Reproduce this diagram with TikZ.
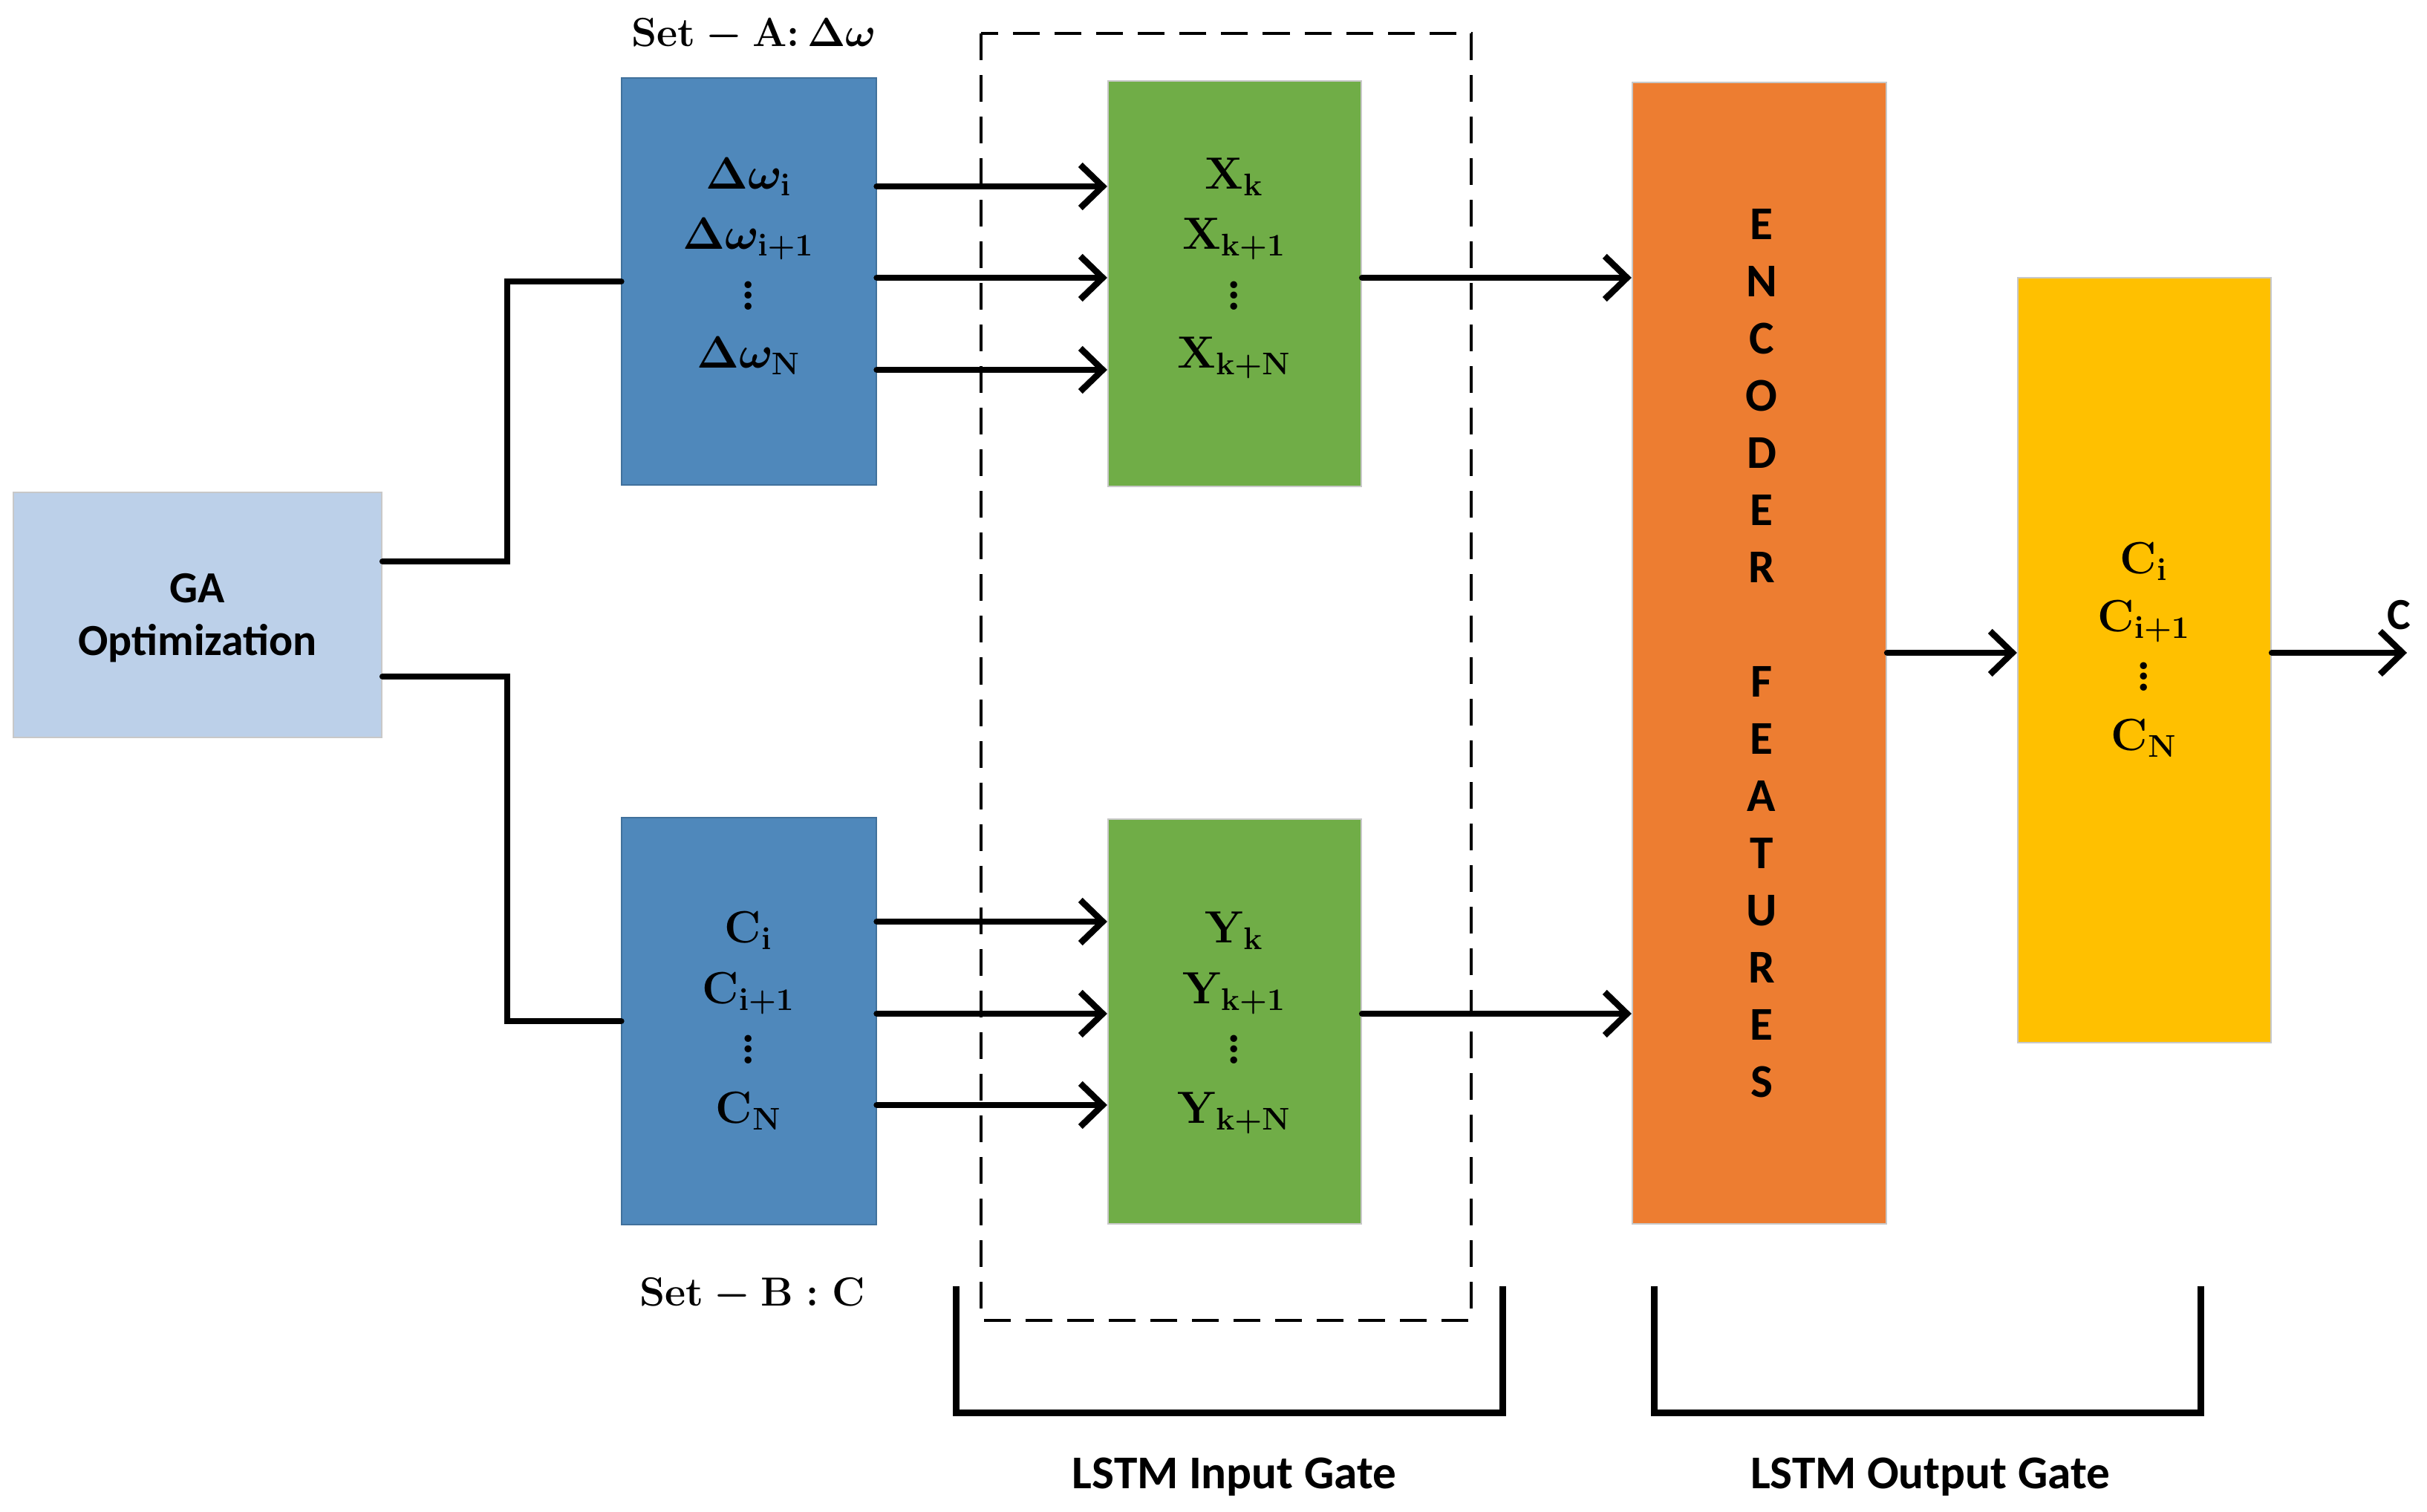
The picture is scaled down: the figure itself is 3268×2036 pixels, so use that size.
\documentclass[tikz,border=0pt]{standalone}
\usepackage{amsmath}
\usepackage{fontspec}
\newfontfamily\carlito{Carlito}
\usetikzlibrary{arrows.meta}
\definecolor{gacol}{HTML}{BCD0E9}
\definecolor{bluecol}{HTML}{4F88BB}
\definecolor{blueedge}{HTML}{41719C}
\definecolor{greencol}{HTML}{70AD47}
\definecolor{orangecol}{HTML}{ED7D31}
\definecolor{yellowcol}{HTML}{FFC000}
\definecolor{lightedge}{HTML}{C8C8C8}
\tikzset{
  blk/.style={rectangle, inner sep=0pt, minimum width=3.42cm, line width=0.02cm},
  mtxt/.style={anchor=base, inner sep=0pt, font=\boldmath\bfseries\fontsize{18.6}{22}\selectfont},
  settxt/.style={anchor=base, inner sep=0pt, font=\boldmath\bfseries\fontsize{15.8}{19}\selectfont},
  stxt/.style={anchor=base, inner sep=0pt, font=\carlito\bfseries\fontsize{17}{20}\selectfont},
  gtxt/.style={anchor=base, inner sep=0pt, font=\carlito\bfseries\fontsize{18}{21}\selectfont},
  wire/.style={line width=0.085cm, line cap=round, line join=miter},
  arr/.style={wire, -{Straight Barb[length=0.3cm,width=0.58cm]}},
  brk/.style={line width=0.09cm, line join=miter},
  dsh/.style={line width=0.04cm, dash pattern=on 0.36cm off 0.2cm},
}
\begin{document}
\begin{tikzpicture}[x=0.01cm,y=-0.01cm]
\path[use as bounding box] (0,0) rectangle (3268,2036);
% boxes
\node[blk, fill=gacol, draw=lightedge, minimum width=4.96cm, minimum height=3.30cm] (ga) at (266,828) {};
\node[blk, fill=bluecol, draw=blueedge, minimum height=5.48cm] (bA) at (1008.5,379) {};
\node[blk, fill=bluecol, draw=blueedge, minimum height=5.48cm] (bB) at (1008.5,1375) {};
\node[blk, fill=greencol, draw=lightedge, minimum width=3.41cm, minimum height=5.46cm] (gA) at (1662.5,382) {};
\node[blk, fill=greencol, draw=lightedge, minimum width=3.41cm, minimum height=5.45cm] (gB) at (1662.5,1375.5) {};
\node[blk, fill=orangecol, draw=lightedge, minimum height=15.37cm] (or) at (2369,879.5) {};
\node[blk, fill=yellowcol, draw=lightedge, minimum width=3.41cm, minimum height=10.30cm] (ye) at (2887.5,889) {};
% dashed frame and brackets
\draw[dsh] (1321,45) rectangle (1981,1778);
\draw[brk] (1287,1732) -- (1287,1902) -- (2023,1902) -- (2023,1732);
\draw[brk] (2227,1732) -- (2227,1902) -- (2963,1902) -- (2963,1732);
% GA texts
\node[stxt] (gat1) at (266,811) {GA};
\node[stxt] (gat2) at (266,882) {Optimization};
% set labels
\node[settxt] (setA) at (1015,63) {\scalebox{1.08}{$\mathbf{Set}-\mathbf{A}{:}\,\Delta\omega$}};
\node[settxt] (setB) at (1013,1758) {\scalebox{1.08}{$\mathbf{Set}-\mathbf{B}:\mathbf{C}$}};
% blue A
\node[mtxt] (a1) at (1008,254) {$\Delta\omega_{\mathbf{i}}$};
\node[mtxt] (a2) at (1008,335) {$\Delta\omega_{\mathbf{i+1}}$};
\node[mtxt] (a3) at (1008,417) {$\vdots$};
\node[mtxt] (a4) at (1008,495) {$\Delta\omega_{\mathbf{N}}$};
% green A
\node[mtxt] (x1) at (1662,254) {$\mathbf{X}_{\mathbf{k}}$};
\node[mtxt] (x2) at (1662,335) {$\mathbf{X}_{\mathbf{k+1}}$};
\node[mtxt] (x3) at (1662,417) {$\vdots$};
\node[mtxt] (x4) at (1662,495) {$\mathbf{X}_{\mathbf{k+N}}$};
% blue B
\node[mtxt] (c1) at (1008,1269) {$\mathbf{C}_{\mathbf{i}}$};
\node[mtxt] (c2) at (1008,1351) {$\mathbf{C}_{\mathbf{i+1}}$};
\node[mtxt] (c3) at (1008,1432) {$\vdots$};
\node[mtxt] (c4) at (1008,1512) {$\mathbf{C}_{\mathbf{N}}$};
% green B
\node[mtxt] (y1) at (1662,1269) {$\mathbf{Y}_{\mathbf{k}}$};
\node[mtxt] (y2) at (1662,1351) {$\mathbf{Y}_{\mathbf{k+1}}$};
\node[mtxt] (y3) at (1662,1432) {$\vdots$};
\node[mtxt] (y4) at (1662,1512) {$\mathbf{Y}_{\mathbf{k+N}}$};
% yellow
\node[mtxt] (o1) at (2887,772) {$\mathbf{C}_{\mathbf{i}}$};
\node[mtxt] (o2) at (2887,850) {$\mathbf{C}_{\mathbf{i+1}}$};
\node[mtxt] (o3) at (2887,930) {$\vdots$};
\node[mtxt] (o4) at (2887,1010) {$\mathbf{C}_{\mathbf{N}}$};
% encoder
\node[inner sep=0pt, align=center, font=\carlito\bfseries\fontsize{18}{21.9}\selectfont] (enc) at (2372,880)
 {E\\N\\C\\O\\D\\E\\R\\[0.77cm]F\\E\\A\\T\\U\\R\\E\\S};
% wires
\draw[wire] (ga.east |- 0,756) -| (683,379) -- (bA.west);
\draw[wire] (ga.east |- 0,911) -| (683,1375) -- (bB.west);
\foreach \y in {251,374,498} \draw[arr] (bA.east |- 0,\y) -- (gA.west |- 0,\y);
\foreach \y in {1241,1365,1488} \draw[arr] (bB.east |- 0,\y) -- (gB.west |- 0,\y);
\draw[arr] (gA.east |- 0,374) -- (or.west |- 0,374);
\draw[arr] (gB.east |- 0,1365) -- (or.west |- 0,1365);
\draw[arr] (or.east |- 0,879) -- (ye.west |- 0,879);
\coordinate (out) at (3241,879);
\draw[arr] (ye.east |- 0,879) -- (out);
\node[stxt] (clab) at (3230,847) {C};
% gate labels
\node[gtxt] (lin) at (1662,2004) {LSTM Input Gate};
\node[gtxt] (lout) at (2599,2004) {LSTM Output Gate};
\end{tikzpicture}
\end{document}
